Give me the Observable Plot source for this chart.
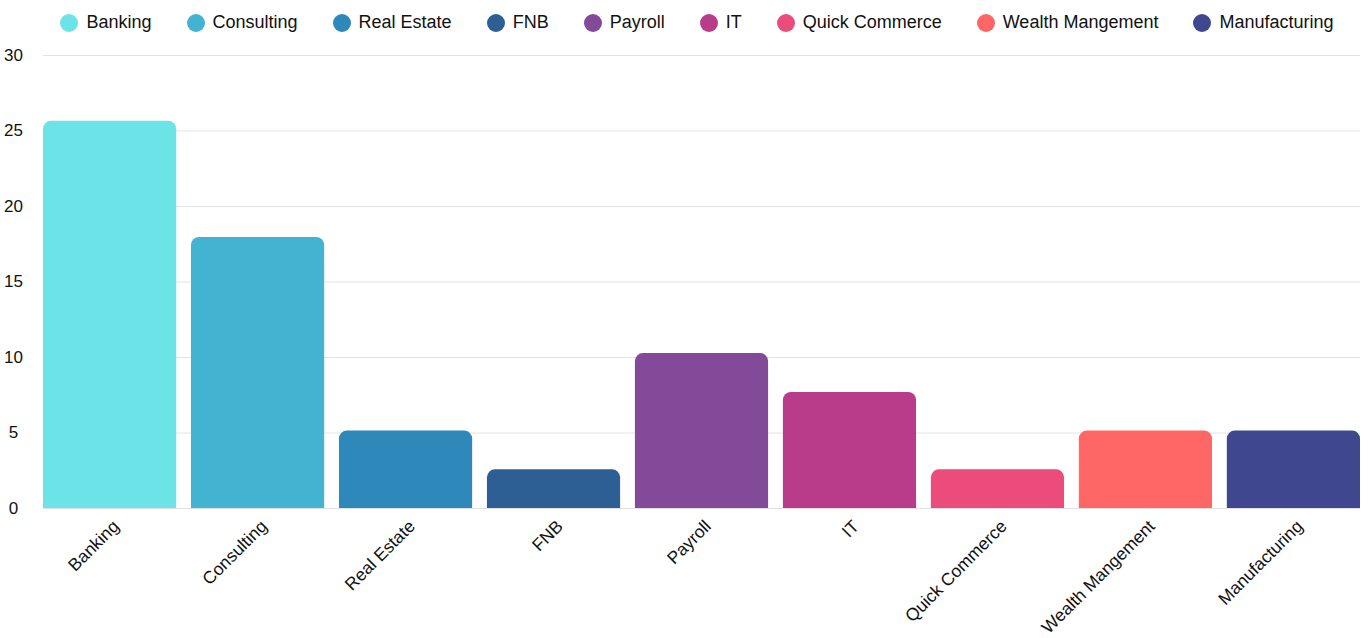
<!DOCTYPE html>
<html>
<head>
<meta charset="utf-8">
<script src="https://cdn.jsdelivr.net/npm/d3@7"></script>
<script src="https://cdn.jsdelivr.net/npm/@observablehq/plot@0.6"></script>
<style>
  html, body { margin: 0; padding: 0; background: #fff; }
  body { width: 1368px; height: 638px; overflow: hidden; font-family: "Liberation Sans", Arial, Helvetica, sans-serif; }
  #legend { height: 45px; display: flex; justify-content: center; align-items: center; gap: 35px; font-size: 18px; color: #111; padding-left: 26px; box-sizing: border-box; }
  .item { display: flex; align-items: center; }
  .sw { width: 18px; height: 18px; border-radius: 50%; margin-right: 8px; }
  #chart svg { display: block; }
</style>
</head>
<body>
<div id="legend"></div>
<div id="chart"></div>
<script>
const categories = ["Banking", "Consulting", "Real Estate", "FNB", "Payroll", "IT", "Quick Commerce", "Wealth Mangement", "Manufacturing"];
const values = [25.64, 17.95, 5.13, 2.56, 10.26, 7.69, 2.56, 5.13, 5.13];
const colors = ["#6be3e7", "#42b3d1", "#2e88b9", "#2d5f94", "#834a9a", "#b83c8a", "#ec4c7c", "#ff6666", "#3f478f"];
const yTicks = [0, 5, 10, 15, 20, 25, 30];

const data = categories.map((name, i) => ({name, value: values[i]}));

const legend = document.getElementById("legend");
categories.forEach((c, i) => {
  const it = document.createElement("div");
  it.className = "item";
  const sw = document.createElement("span");
  sw.className = "sw";
  sw.style.background = colors[i];
  const t = document.createElement("span");
  t.textContent = c;
  it.appendChild(sw); it.appendChild(t);
  legend.appendChild(it);
});

const chart = Plot.plot({
  width: 1368,
  height: 593,
  marginTop: 10,
  marginBottom: 130,
  marginLeft: 43,
  marginRight: 8,
  style: {fontFamily: "'Liberation Sans', Arial, Helvetica, sans-serif", fontSize: "17px", color: "#111", background: "#fff"},
  x: {domain: categories, paddingInner: 0.1, paddingOuter: 0, round: false, label: null},
  y: {domain: [0, 30], ticks: yTicks, label: null},
  color: {domain: categories, range: colors},
  marks: [
    Plot.ruleY(yTicks, {stroke: "#e2e2e2", strokeWidth: 1}),
    Plot.barY(data, {x: "name", y: "value", fill: "name", ry1: 8, rx: 0}),
    Plot.axisY({ticks: yTicks, tickSize: 0, textAnchor: "middle", dx: -21, fontSize: 17, label: null}),
    Plot.axisX({tickSize: 0, tickPadding: 15, tickRotate: -45, fontSize: 17.5, label: null, dx: 6})
  ]
});
document.getElementById("chart").appendChild(chart);
</script>
</body>
</html>
